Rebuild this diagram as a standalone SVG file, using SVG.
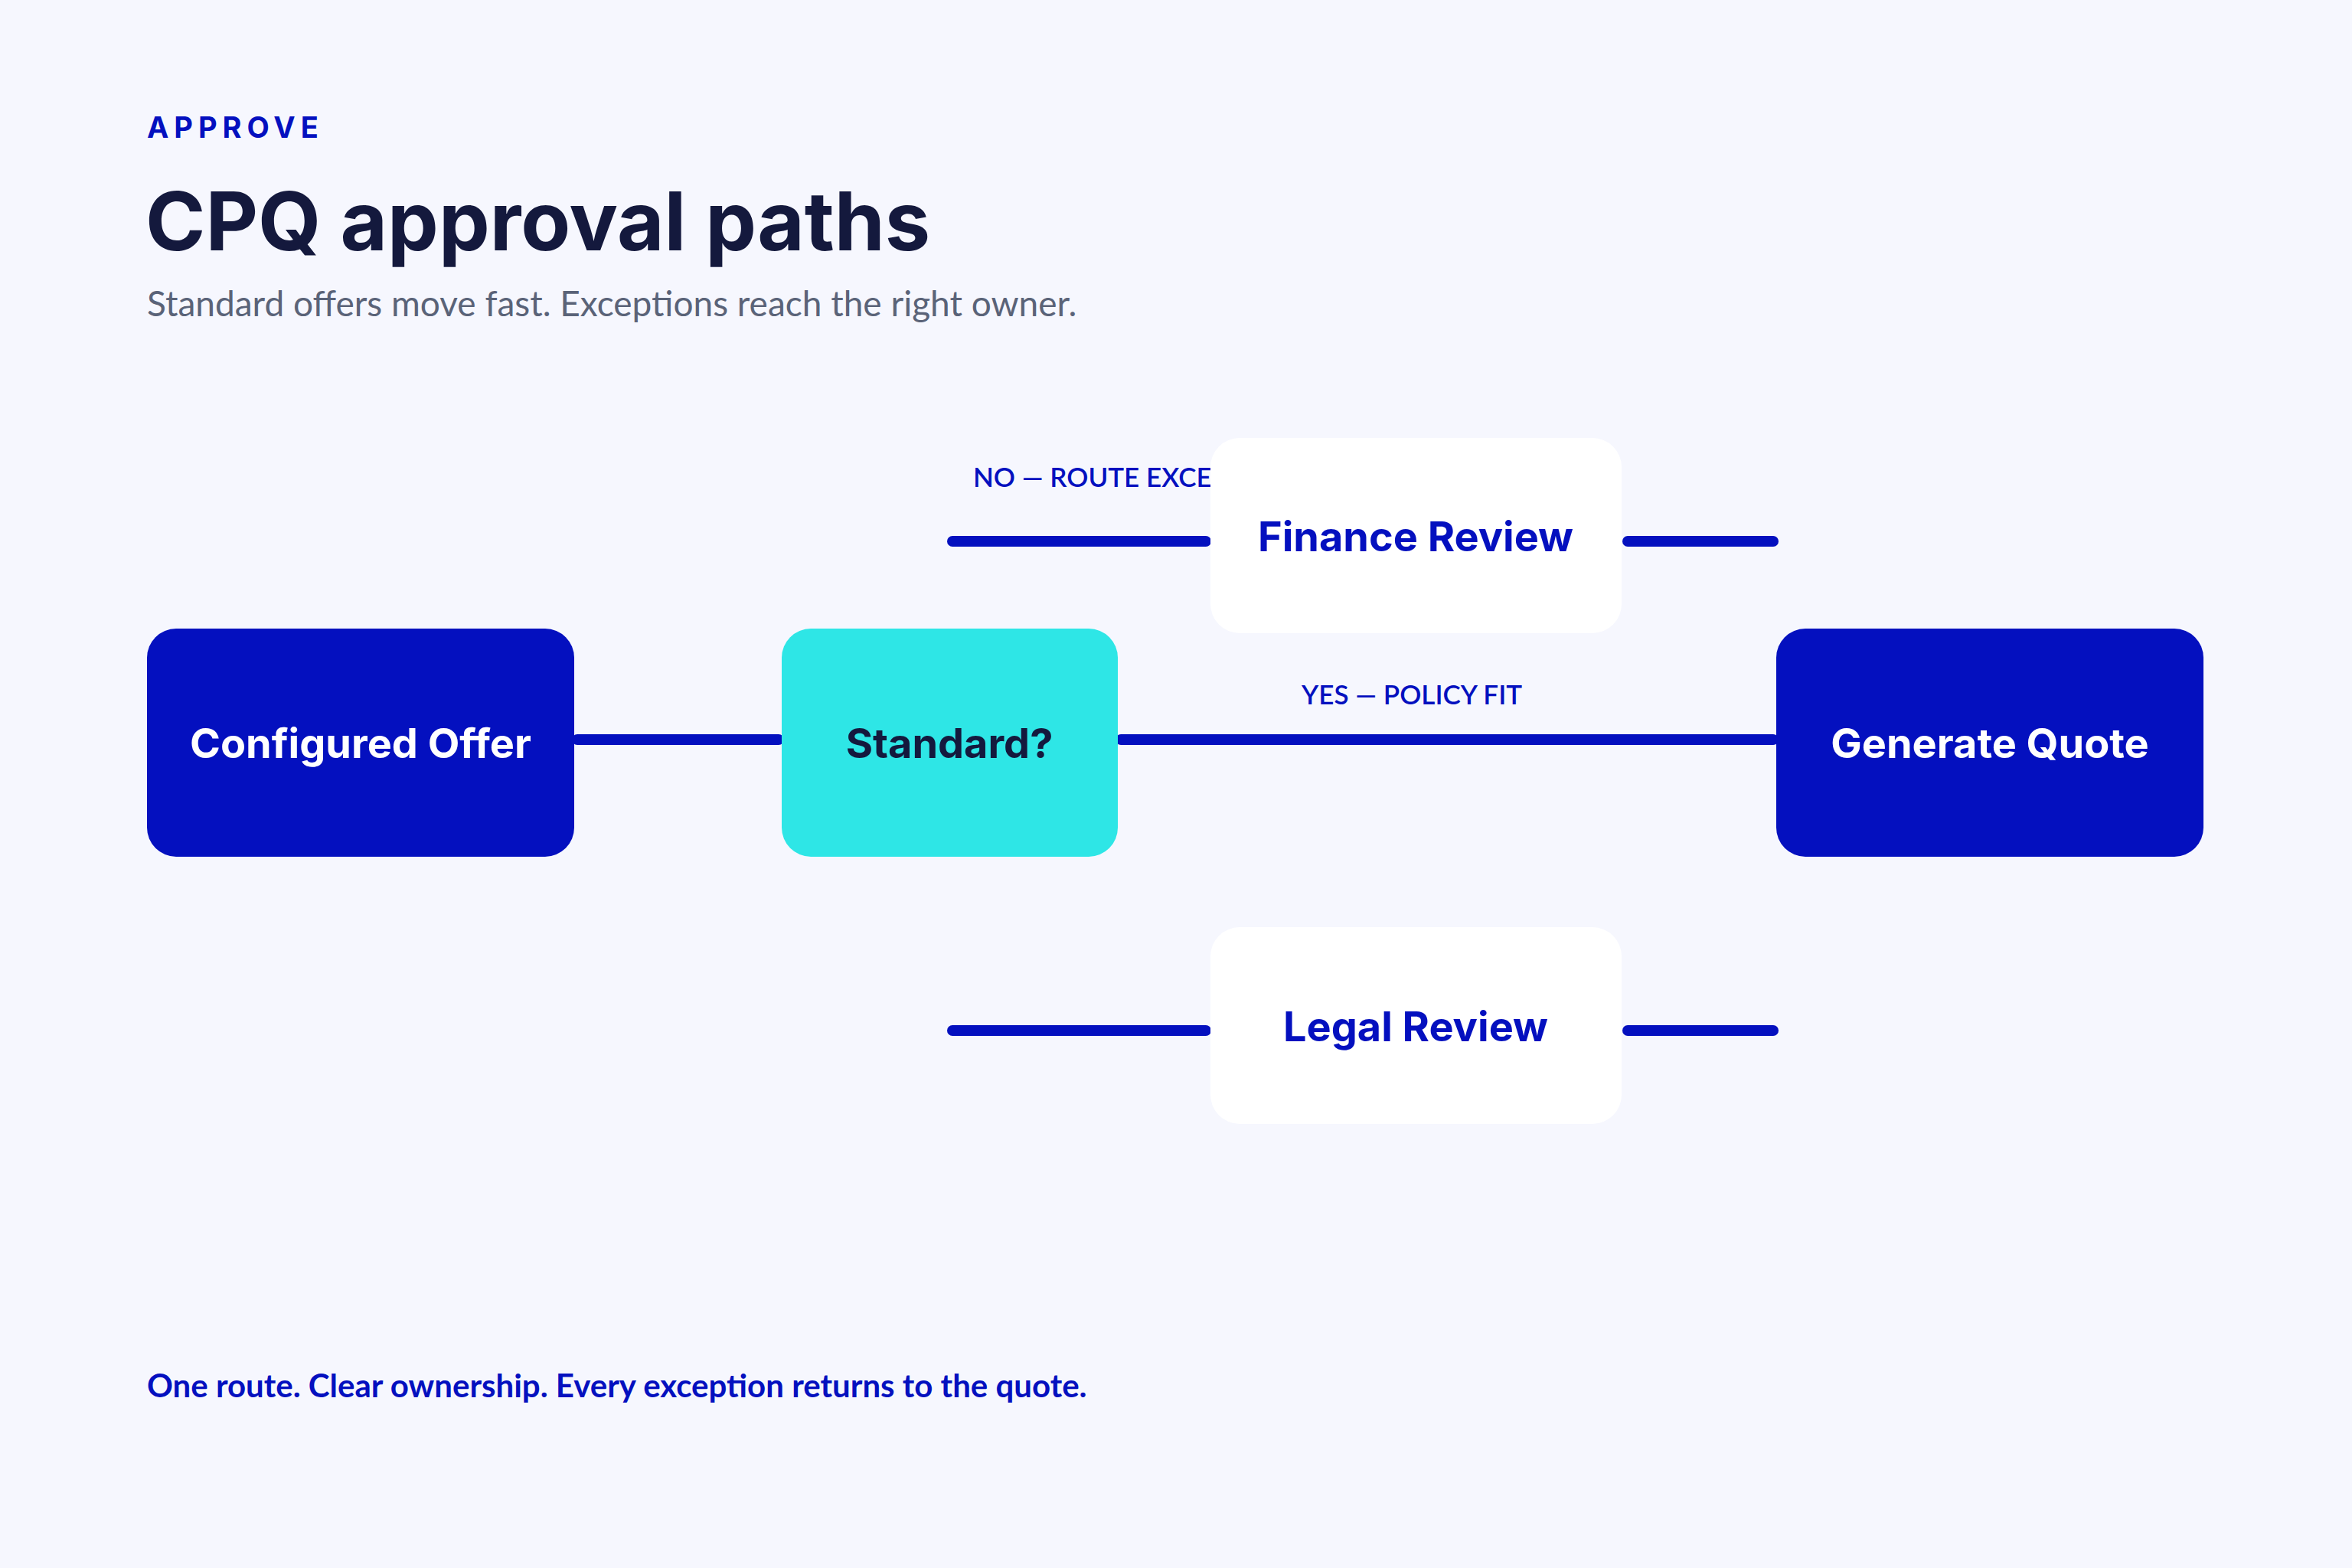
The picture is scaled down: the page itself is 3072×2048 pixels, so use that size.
<svg xmlns="http://www.w3.org/2000/svg" width="3072" height="2048" viewBox="0 0 3072 2048">
<style>
.bg{fill:#F6F7FE}
.dark rect{fill:#0410BF}
.dark text{fill:#FFFFFF}
.nt{font-family:Inter,"Noto Sans",sans-serif;font-weight:700;font-size:54px;text-anchor:middle;dominant-baseline:central}
.wl rect{fill:#FFFFFF}
.wl text{fill:#0410BF}
.conn line{stroke:#0410BF;stroke-width:14;stroke-linecap:round}
.lbl{font-family:Lato,"Noto Sans",sans-serif;font-weight:600;font-size:35px;fill:#0410BF}
</style>
<rect class="bg" width="3072" height="2048"/>
<text x="192" y="180" font-family="Inter,sans-serif" font-weight="700" font-size="38" letter-spacing="7" fill="#0410BF">APPROVE</text>
<text x="190" y="327" font-family="Inter,sans-serif" font-weight="700" font-size="106" fill="#14193D">CPQ approval paths</text>
<text x="192" y="413" font-family="Lato,sans-serif" font-size="46" fill="#5A6378">Standard offers move fast. Exceptions reach the right owner.</text>
<g class="conn">
<line x1="754" y1="966" x2="1017" y2="966"/>
<line x1="1464" y1="966" x2="2316" y2="966"/>
<line x1="1244" y1="707" x2="1575" y2="707"/>
<line x1="2126" y1="707" x2="2316" y2="707"/>
<line x1="1244" y1="1346" x2="1575" y2="1346"/>
<line x1="2126" y1="1346" x2="2316" y2="1346"/>
</g>
<text class="lbl" x="1271" y="636">NO — ROUTE EXCEPTION</text>
<text class="lbl" x="1700" y="920">YES — POLICY FIT</text>
<g id="configured" class="dark"><rect x="192" y="821" width="558" height="298" rx="38"/><text class="nt" x="471" y="970">Configured Offer</text></g>
<g id="standard"><rect x="1021" y="821" width="439" height="298" rx="38" fill="#2EE6E6"/><text class="nt" x="1240" y="970" fill="#14193D">Standard?</text></g>
<g id="generate" class="dark"><rect x="2320" y="821" width="558" height="298" rx="38"/><text class="nt" x="2599" y="970">Generate Quote</text></g>
<g id="finance" class="wl"><rect x="1581" y="572" width="537" height="255" rx="38"/><text class="nt" x="1849" y="700">Finance Review</text></g>
<g id="legal" class="wl"><rect x="1581" y="1211" width="537" height="257" rx="38"/><text class="nt" x="1849" y="1340">Legal Review</text></g>
<text x="192" y="1825" font-family="Lato,sans-serif" font-weight="700" font-size="42" fill="#0410BF">One route. Clear ownership. Every exception returns to the quote.</text>
</svg>
